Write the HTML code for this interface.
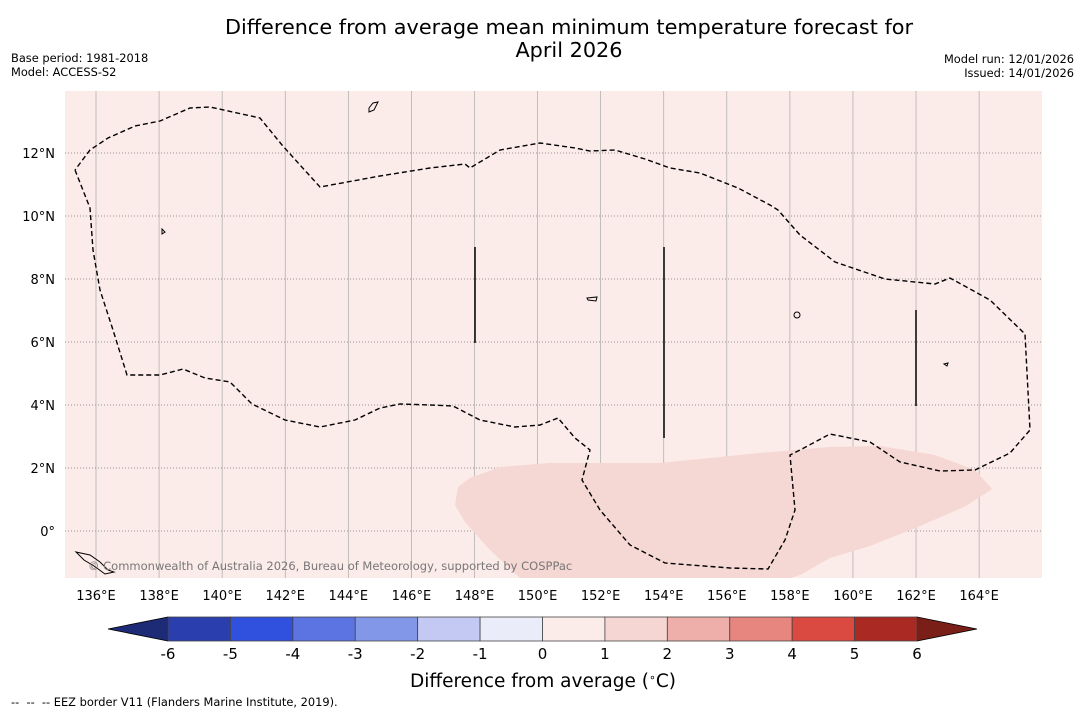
<!DOCTYPE html>
<html><head><meta charset="utf-8"><style>
body{margin:0;background:#fff;width:1085px;height:713px;overflow:hidden;font-family:"DejaVu Sans","Liberation Sans",sans-serif}
svg text{font-family:"DejaVu Sans","Liberation Sans",sans-serif}
</style></head><body>
<svg id="chart" width="1085" height="713" viewBox="0 0 1085 713" xmlns="http://www.w3.org/2000/svg">
<text x="569" y="34" font-size="20.8" text-anchor="middle">Difference from average mean minimum temperature forecast for</text>
<text x="569" y="57" font-size="20.8" text-anchor="middle">April 2026</text>
<text x="11" y="62" font-size="11.4">Base period: 1981-2018</text>
<text x="11" y="76" font-size="11.4">Model: ACCESS-S2</text>
<text x="1074" y="63" font-size="11.4" text-anchor="end">Model run: 12/01/2026</text>
<text x="1074" y="77" font-size="11.4" text-anchor="end">Issued: 14/01/2026</text>
<rect x="65" y="91" width="977" height="487" fill="#fbebe9"/>
<g id="grid"></g>
<path fill="#f5d7d3" d="M458,487 L470,478 L500,467 L550,463 L660,463 L760,453 L830,447 L880,446 L935,455 L975,470 L992,489 L966,506 L920,526 L870,546 L830,558 L800,575 L790,578 L520,578 L490,550 L465,522 L455,505 Z"/>
<path fill="none" stroke="#000" stroke-width="1.4" stroke-dasharray="5,3" d="M75,170 L90,208 L93,250 L100,290 L113,330 L127,375 L160,375 L183,369 L205,378 L230,382 L252,404 L285,420 L320,427 L355,420 L380,408 L400,404 L430,405 L453,406 L480,420 L515,427 L540,425 L558,418 L575,438 L590,450 L582,480 L600,510 L630,545 L665,563 L730,568 L768,569 L785,540 L795,510 L790,455 L800,450 L830,434 L870,442 L900,462 L940,471 L975,470 L1010,453 L1030,430 L1025,334 L990,300 L950,278 L935,284 L885,279 L835,262 L800,235 L778,210 L770,205 L738,188 L700,173 L670,168 L645,159 L615,150 L590,151 L575,148 L540,143 L500,150 L470,168 L465,164 L430,168 L380,176 L320,187 L300,165 L282,145 L260,118 L210,107 L190,108 L160,121 L135,126 L108,138 L90,150 L75,170"/>
<g stroke="#000" stroke-width="1.5">
<line x1="475" y1="247" x2="475" y2="343"/><line x1="664" y1="247" x2="664" y2="438"/><line x1="916" y1="310" x2="916" y2="406"/>
</g>
<g fill="none" stroke="#000" stroke-width="1">
<path d="M369,108 L373,103 L378,102 L374,110 L369,112 Z"/><path d="M162,229 L165,232 L162,234 Z"/><path d="M587,298 L597,297 L596,301 L588,300Z"/><circle cx="797" cy="315" r="3"/><path d="M944,364 L948,363 L947,366Z"/><path d="M76,552 L90,555 L100,562 L108,570 L114,572 L105,574 L94,566 L84,560 Z"/>
</g>
<text x="88" y="570" font-size="11.5" fill="#777">© Commonwealth of Australia 2026, Bureau of Meteorology, supported by COSPPac</text>
<g id="axes"></g>
<g id="cbar"></g>
<text x="543" y="687" font-size="18.5" text-anchor="middle">Difference from average (<tspan baseline-shift="super" font-size="11">∘</tspan>C)</text>
<text x="11" y="706" font-size="11.4" xml:space="preserve">--  --  -- EEZ border V11 (Flanders Marine Institute, 2019).</text>
</svg>
<script>
const lonTicks=[136,138,140,142,144,146,148,150,152,154,156,158,160,162,164];
const latTicks=[0,2,4,6,8,10,12];
const cbarLevels=[-6,-5,-4,-3,-2,-1,0,1,2,3,4,5,6];
const cbarColors=["#2a3fad","#3050de","#5b74e2","#8397e8","#c3c9f3","#eaecfa","#fbebe9","#f5d6d3","#eeaea9","#e7857f","#da4a41","#aa2a23"];
const NS="http://www.w3.org/2000/svg";
const X=lon=>96+(lon-136)*31.54;
const Y=lat=>531-lat*31.5;
const C=v=>168+(v+6)*(749/12);
function mk(t,a,p){const e=document.createElementNS(NS,t);for(const k in a)e.setAttribute(k,a[k]);p.appendChild(e);return e;}
const grid=document.getElementById('grid'),axes=document.getElementById('axes'),cb=document.getElementById('cbar');
lonTicks.forEach(l=>{
 const g=mk('line',{x1:X(l),x2:X(l),y1:91,y2:578,stroke:'#aaa','stroke-width':0.7},grid);
 
 
 const t=mk('text',{x:X(l),y:600,'font-size':13,'text-anchor':'middle'},axes);t.textContent=l+'°E';
 
 
});
latTicks.forEach(l=>{
 const g=mk('line',{x1:65,x2:1042,y1:Y(l),y2:Y(l),stroke:'#777','stroke-width':0.8,'stroke-dasharray':'1,2'},grid);
 
 
 const t=mk('text',{x:55,y:Y(l)+5,'font-size':13,'text-anchor':'end'},axes);t.textContent=(l===0?'0°':l+'°N');
 
 
});
const y0=617,y1=641;
const le=mk('polygon',{points:`${C(-6)},${y0} 108,${(y0+y1)/2} ${C(-6)},${y1}`,fill:'#1d2b77',stroke:'#000','stroke-width':0.8},cb);


const re=mk('polygon',{points:`${C(6)},${y0} 977,${(y0+y1)/2} ${C(6)},${y1}`,fill:'#7a1e18',stroke:'#000','stroke-width':0.8},cb);


cbarColors.forEach((c,i)=>{
 const r=mk('rect',{x:C(cbarLevels[i]),y:y0,width:C(cbarLevels[i+1])-C(cbarLevels[i]),height:y1-y0,fill:c,stroke:'#444','stroke-width':0.8},cb);
 
 
});
cbarLevels.forEach(v=>{
 const t=mk('text',{x:C(v),y:659,'font-size':15,'text-anchor':'middle'},cb);t.textContent=v;
 
 
});
</script>
</body></html>
